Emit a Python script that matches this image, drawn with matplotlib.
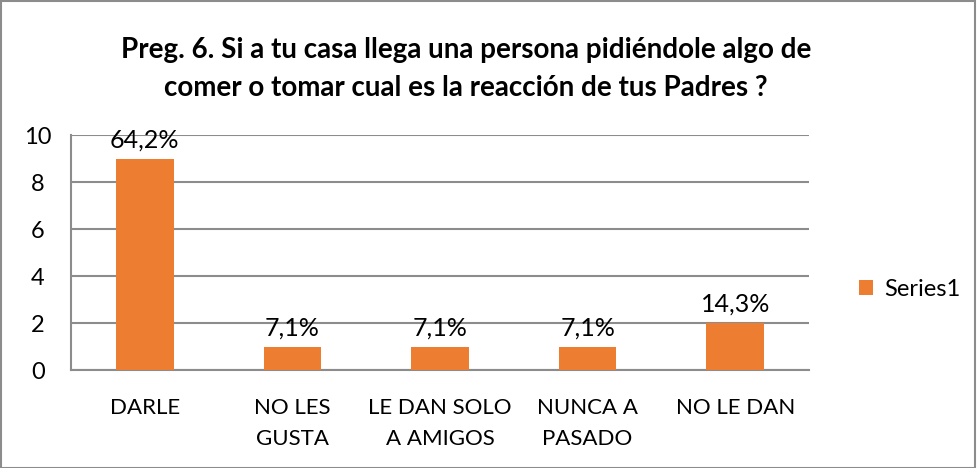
import matplotlib
matplotlib.use("Agg")
import matplotlib.pyplot as plt
from matplotlib.patches import Rectangle

plt.rcParams['font.family'] = ['Lato', 'DejaVu Sans']

categories = ["DARLE", "NO LES\nGUSTA", "LE DAN SOLO\nA AMIGOS", "NUNCA A\nPASADO", "NO LE DAN"]
values = [9, 1, 1, 1, 2]
pct_labels = ["64,2%", "7,1%", "7,1%", "7,1%", "14,3%"]
title = "Preg. 6. Si a tu casa llega una persona pidiéndole algo de\ncomer o tomar cual es la reacción de tus Padres ?"

orange = "#ED7D31"
grid_col = "#8C8C8C"

fig = plt.figure(figsize=(9.77, 4.68), dpi=100)
ax = fig.add_axes([0.0727, 0.2094, 0.7553, 0.5021])

x = range(len(categories))
bars = ax.bar(x, values, width=0.39, color=orange, label="Series1", zorder=3)

ax.set_xlim(-0.5, len(categories) - 0.5)
ax.set_ylim(0, 10)
ax.set_yticks([0, 2, 4, 6, 8, 10])
ax.yaxis.grid(True, color=grid_col, linewidth=1.5, zorder=0)
ax.set_xticks(list(x))
ax.set_xticklabels(categories, fontsize=16, linespacing=1.7)
ax.tick_params(axis='y', labelsize=17, length=0, pad=24)
ax.tick_params(axis='x', length=0, pad=20)
for t in ax.get_yticklabels():
    t.set_ha("center")

for s in ["top", "right"]:
    ax.spines[s].set_visible(False)
ax.spines["left"].set_color(grid_col)
ax.spines["left"].set_linewidth(1.5)
ax.spines["bottom"].set_color(grid_col)
ax.spines["bottom"].set_linewidth(1.5)

for b, lab in zip(bars, pct_labels):
    ax.annotate(lab, (b.get_x() + b.get_width() / 2, b.get_height()),
                xytext=(0, 5), textcoords="offset points",
                ha="center", va="bottom", fontsize=18)

fig.text(0.477, 0.853, title, ha="center", va="center", fontsize=20,
         fontweight="bold", linespacing=1.55)

leg = fig.legend(handles=[bars], labels=["Series1"], loc="center left",
                 bbox_to_anchor=(0.857, 0.382), frameon=False, fontsize=17,
                 handlelength=0.6, handleheight=0.6, handletextpad=0.5)

fig.patches.append(Rectangle((0.001, 0.001), 0.997, 0.997, transform=fig.transFigure,
                             fill=False, edgecolor="#8C8C8C", linewidth=1.5))

fig.savefig("out.png", dpi=100)
